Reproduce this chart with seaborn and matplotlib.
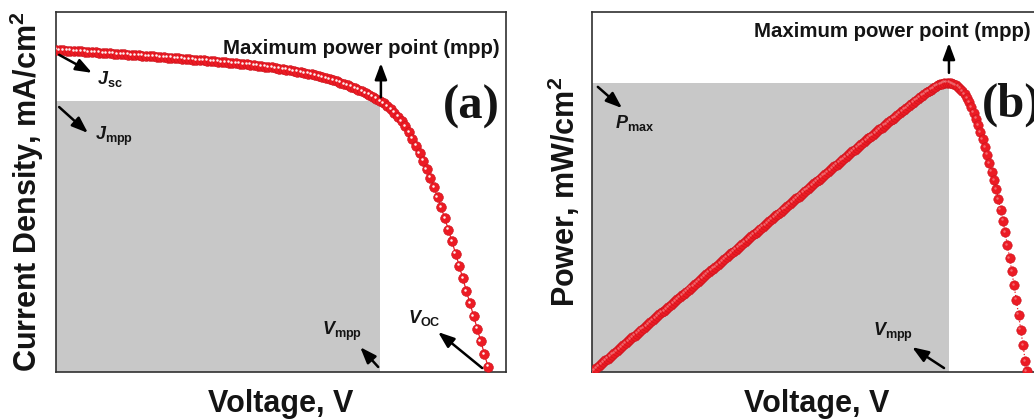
import matplotlib
matplotlib.use("Agg")
import matplotlib.pyplot as plt
import matplotlib.transforms as mtransforms
from matplotlib.patches import Rectangle
import seaborn as sns

# ---------------------------------------------------------------------------
# (a) J-V sweep of the cell: voltage (V) and current density (mA/cm^2)
# ---------------------------------------------------------------------------
voltage_a = [
    0.000, 0.008, 0.016, 0.024, 0.032, 0.040, 0.048, 0.056, 0.064, 0.072,
    0.080, 0.088, 0.096, 0.104, 0.112, 0.120, 0.128, 0.136, 0.144, 0.152,
    0.160, 0.168, 0.176, 0.184, 0.192, 0.200, 0.208, 0.216, 0.224, 0.232,
    0.240, 0.248, 0.256, 0.264, 0.272, 0.280, 0.288, 0.296, 0.304, 0.312,
    0.320, 0.328, 0.336, 0.344, 0.352, 0.360, 0.368, 0.376, 0.384, 0.392,
    0.400, 0.408, 0.416, 0.424, 0.432, 0.440, 0.448, 0.456, 0.464, 0.472,
    0.480, 0.488, 0.496, 0.504, 0.512, 0.520, 0.528, 0.536, 0.544, 0.552,
    0.560, 0.568, 0.576, 0.584, 0.592, 0.600, 0.608, 0.616, 0.624, 0.632,
    0.640, 0.648, 0.656, 0.664, 0.672, 0.680, 0.688, 0.696, 0.704, 0.712,
    0.720, 0.728, 0.736, 0.744, 0.752, 0.760, 0.768, 0.776, 0.784, 0.792,
    0.800, 0.808, 0.816, 0.824, 0.832, 0.840, 0.848, 0.856, 0.864, 0.872,
    0.880, 0.888, 0.896, 0.904, 0.912, 0.920, 0.928, 0.936, 0.944, 0.952,
    0.960,
]
current_a = [
    17.90, 17.89, 17.87, 17.86, 17.85, 17.84, 17.82, 17.81, 17.80, 17.78,
    17.77, 17.76, 17.74, 17.73, 17.71, 17.70, 17.69, 17.67, 17.66, 17.65,
    17.63, 17.62, 17.60, 17.59, 17.57, 17.56, 17.55, 17.53, 17.52, 17.50,
    17.49, 17.47, 17.46, 17.44, 17.42, 17.41, 17.39, 17.38, 17.36, 17.34,
    17.33, 17.31, 17.29, 17.27, 17.26, 17.24, 17.22, 17.20, 17.19, 17.17,
    17.15, 17.13, 17.11, 17.09, 17.07, 17.05, 17.02, 17.00, 16.97, 16.95,
    16.92, 16.89, 16.86, 16.83, 16.80, 16.76, 16.73, 16.69, 16.65, 16.61,
    16.57, 16.53, 16.48, 16.43, 16.38, 16.33, 16.27, 16.21, 16.14, 16.08,
    16.01, 15.93, 15.85, 15.77, 15.69, 15.60, 15.50, 15.40, 15.30, 15.18,
    15.06, 14.92, 14.77, 14.60, 14.41, 14.18, 13.92, 13.64, 13.32, 12.96,
    12.58, 12.17, 11.74, 11.28, 10.79, 10.27, 9.72, 9.14, 8.53, 7.90,
    7.25, 6.58, 5.90, 5.20, 4.50, 3.81, 3.11, 2.41, 1.71, 1.00,
    0.30,
]
v_mpp_a = 0.720
j_mpp_a = 15.06

# ---------------------------------------------------------------------------
# (b) P-V curve: voltage (V) and output power density (mW/cm^2)
# ---------------------------------------------------------------------------
voltage_b = [
    0.000, 0.005, 0.010, 0.015, 0.020, 0.025, 0.030, 0.035, 0.040, 0.045,
    0.050, 0.055, 0.060, 0.065, 0.070, 0.075, 0.080, 0.085, 0.090, 0.095,
    0.100, 0.105, 0.110, 0.115, 0.120, 0.125, 0.130, 0.135, 0.140, 0.145,
    0.150, 0.155, 0.160, 0.165, 0.170, 0.175, 0.180, 0.185, 0.190, 0.195,
    0.200, 0.205, 0.210, 0.215, 0.220, 0.225, 0.230, 0.235, 0.240, 0.245,
    0.250, 0.255, 0.260, 0.265, 0.270, 0.275, 0.280, 0.285, 0.290, 0.295,
    0.300, 0.305, 0.310, 0.315, 0.320, 0.325, 0.330, 0.335, 0.340, 0.345,
    0.350, 0.355, 0.360, 0.365, 0.370, 0.375, 0.380, 0.385, 0.390, 0.395,
    0.400, 0.405, 0.410, 0.415, 0.420, 0.425, 0.430, 0.435, 0.440, 0.445,
    0.450, 0.455, 0.460, 0.465, 0.470, 0.475, 0.480, 0.485, 0.490, 0.495,
    0.500, 0.505, 0.510, 0.515, 0.520, 0.525, 0.530, 0.535, 0.540, 0.545,
    0.550, 0.555, 0.560, 0.565, 0.570, 0.575, 0.580, 0.585, 0.590, 0.595,
    0.600, 0.605, 0.610, 0.615, 0.620, 0.625, 0.630, 0.635, 0.640, 0.645,
    0.650, 0.655, 0.660, 0.665, 0.670, 0.675, 0.680, 0.685, 0.690, 0.695,
    0.700, 0.705, 0.710, 0.715, 0.720, 0.725, 0.730, 0.735, 0.740, 0.745,
    0.750, 0.755, 0.760, 0.765, 0.770, 0.775, 0.780, 0.785, 0.790, 0.795,
    0.800, 0.805, 0.810, 0.815, 0.820, 0.825, 0.830, 0.835, 0.840, 0.845,
    0.850, 0.855, 0.860, 0.865, 0.870, 0.875, 0.880, 0.885, 0.890, 0.895,
    0.900, 0.905, 0.910, 0.915, 0.920, 0.925, 0.930, 0.935, 0.940, 0.945,
    0.950, 0.955, 0.960, 0.965, 0.968,
]
power_b = [
    0.00, 0.08, 0.16, 0.24, 0.32, 0.40, 0.48, 0.56, 0.64, 0.72,
    0.80, 0.88, 0.96, 1.04, 1.12, 1.20, 1.28, 1.36, 1.44, 1.52,
    1.60, 1.68, 1.76, 1.84, 1.92, 2.00, 2.08, 2.16, 2.24, 2.32,
    2.40, 2.48, 2.55, 2.63, 2.71, 2.79, 2.87, 2.95, 3.03, 3.11,
    3.19, 3.27, 3.35, 3.43, 3.51, 3.59, 3.67, 3.75, 3.83, 3.91,
    3.99, 4.07, 4.15, 4.23, 4.31, 4.38, 4.46, 4.54, 4.62, 4.70,
    4.78, 4.86, 4.94, 5.02, 5.10, 5.18, 5.26, 5.34, 5.42, 5.50,
    5.58, 5.65, 5.73, 5.81, 5.89, 5.97, 6.05, 6.13, 6.21, 6.29,
    6.37, 6.45, 6.53, 6.60, 6.68, 6.76, 6.84, 6.92, 7.00, 7.08,
    7.16, 7.23, 7.31, 7.39, 7.47, 7.55, 7.63, 7.70, 7.78, 7.86,
    7.94, 8.02, 8.10, 8.18, 8.25, 8.33, 8.41, 8.49, 8.57, 8.64,
    8.72, 8.80, 8.88, 8.96, 9.04, 9.11, 9.19, 9.27, 9.35, 9.43,
    9.50, 9.58, 9.66, 9.73, 9.81, 9.88, 9.96, 10.03, 10.11, 10.18,
    10.26, 10.33, 10.41, 10.48, 10.56, 10.63, 10.71, 10.78, 10.86, 10.93,
    11.00, 11.08, 11.15, 11.22, 11.30, 11.37, 11.44, 11.51, 11.58, 11.65,
    11.71, 11.77, 11.83, 11.89, 11.94, 11.98, 12.02, 12.05, 12.05, 12.05,
    12.03, 12.00, 11.96, 11.89, 11.81, 11.70, 11.58, 11.42, 11.24, 11.04,
    10.81, 10.56, 10.29, 10.00, 9.69, 9.38, 9.05, 8.71, 8.35, 7.98,
    7.61, 7.21, 6.77, 6.31, 5.82, 5.29, 4.75, 4.19, 3.61, 3.01,
    2.39, 1.76, 1.11, 0.45, 0.04,
]
v_mpp_b = 0.795
p_max_b = 12.05

# ---------------------------------------------------------------------------
# Styling
# ---------------------------------------------------------------------------
sns.set_theme(style="white")
plt.rcParams.update({
    "font.family": ["Liberation Sans", "DejaVu Sans"],
    "font.weight": "bold",
    "mathtext.fontset": "custom",
    "mathtext.rm": "Liberation Sans:bold",
    "mathtext.bf": "Liberation Sans:bold",
    "mathtext.it": "Liberation Sans:bold:italic",
    "axes.linewidth": 1.2,
    "axes.edgecolor": "#303030",
})

BALL = "#ec1b24"
BALL_EDGE = "#c8111b"
SHADE = "#c8c8c8"
INK = "#141414"
LABEL_SIZE = 22
NOTE_SIZE = 13

fig = plt.figure(figsize=(10.34, 4.19), dpi=100)
ax_a = fig.add_axes([56 / 1034, 47 / 419, 450 / 1034, 360 / 419])
ax_b = fig.add_axes([592 / 1034, 47 / 419, 449 / 1034, 360 / 419])


def draw_balls(ax, x, y, size, line_style, line_width, shine_alpha):
    """Red glossy beads joined by a thin line."""
    sns.lineplot(x=x, y=y, ax=ax, sort=False, estimator=None, color=BALL,
                 linewidth=line_width, linestyle=line_style, marker="o",
                 markersize=size, markerfacecolor=BALL,
                 markeredgecolor=BALL_EDGE, markeredgewidth=0.4, zorder=3)
    shine = ax.transData + mtransforms.ScaledTranslation(
        -0.013, 0.013, fig.dpi_scale_trans)
    ax.plot(x, y, ls="none", marker="o", markersize=size * 0.26,
            markeredgewidth=0, color="white", alpha=shine_alpha,
            transform=shine, zorder=4)


def arrow(ax, tail, head):
    ax.annotate("", xy=head, xytext=tail, xycoords="axes fraction",
                textcoords="axes fraction",
                arrowprops=dict(arrowstyle="-|>,head_length=0.75,head_width=0.28",
                                color="black", lw=1.8, shrinkA=0, shrinkB=0,
                                mutation_scale=13))


def note(ax, x, y, s, size=NOTE_SIZE, ha="left", va="baseline", **kw):
    ax.text(x, y, s, transform=ax.transAxes, fontsize=size, ha=ha, va=va,
            color=INK, fontweight="bold", **kw)


# ---------------------------------------------------------------------------
# (a) J-V
# ---------------------------------------------------------------------------
ax_a.add_patch(Rectangle((0, 0), v_mpp_a, j_mpp_a, facecolor=SHADE,
                         edgecolor="none", zorder=1))
draw_balls(ax_a, voltage_a, current_a, 7.0, "-", 0.9, 0.95)
ax_a.set_xlim(0, 1)
ax_a.set_ylim(0, 20)

note(ax_a, 0.679, 0.883, "Maximum power point (mpp)", size=14.7, ha="center")
arrow(ax_a, (0.722, 0.763), (0.722, 0.858))
arrow(ax_a, (0.007, 0.881), (0.080, 0.831))
note(ax_a, 0.091, 0.800, r"$\mathit{J}_{\mathbf{sc}}$")
arrow(ax_a, (0.007, 0.736), (0.071, 0.664))
note(ax_a, 0.087, 0.644, r"$\mathit{J}_{\mathbf{mpp}}$")
note(ax_a, 0.591, 0.103, r"$\mathit{V}_{\mathbf{mpp}}$")
arrow(ax_a, (0.716, 0.014), (0.676, 0.069))
note(ax_a, 0.782, 0.136, r"$\mathit{V}_{\mathbf{OC}}$")
arrow(ax_a, (0.947, 0.011), (0.849, 0.111))
note(ax_a, 0.923, 0.736, "(a)", size=35, ha="center", va="center",
     family="Liberation Serif")

ax_a.set_xlabel("Voltage, V", fontsize=LABEL_SIZE, fontweight="bold", color=INK)
ax_a.xaxis.set_label_coords(0.5, -0.111)
ax_a.xaxis.label.set_verticalalignment("baseline")
ax_a.set_ylabel(r"Current Density, mA/cm$^\mathbf{2}$", fontsize=LABEL_SIZE,
                fontweight="bold", color=INK)
ax_a.yaxis.set_label_coords(-0.042, 0.5)
ax_a.yaxis.label.set_verticalalignment("baseline")

# ---------------------------------------------------------------------------
# (b) P-V
# ---------------------------------------------------------------------------
ax_b.add_patch(Rectangle((0, 0), v_mpp_b, p_max_b, facecolor=SHADE,
                         edgecolor="none", zorder=1))
draw_balls(ax_b, voltage_b, power_b, 6.8, ":", 0.9, 0.35)
ax_b.set_xlim(0, 1)
ax_b.set_ylim(0, 15)

note(ax_b, 0.668, 0.931, "Maximum power point (mpp)", size=14.7, ha="center")
arrow(ax_b, (0.795, 0.831), (0.795, 0.914))
arrow(ax_b, (0.013, 0.792), (0.067, 0.733))
note(ax_b, 0.051, 0.678, r"$\mathit{P}_{\mathbf{max}}$")
note(ax_b, 0.626, 0.100, r"$\mathit{V}_{\mathbf{mpp}}$")
arrow(ax_b, (0.784, 0.011), (0.713, 0.069))
note(ax_b, 0.869, 0.742, "(b)", size=35, ha="left", va="center",
     family="Liberation Serif")

ax_b.set_xlabel("Voltage, V", fontsize=LABEL_SIZE, fontweight="bold", color=INK)
ax_b.xaxis.set_label_coords(0.5, -0.111)
ax_b.xaxis.label.set_verticalalignment("baseline")
ax_b.set_ylabel(r"Power, mW/cm$^\mathbf{2}$", fontsize=LABEL_SIZE,
                fontweight="bold", color=INK)
ax_b.yaxis.set_label_coords(-0.038, 0.5)
ax_b.yaxis.label.set_verticalalignment("baseline")

for ax in (ax_a, ax_b):
    ax.set_xticks([])
    ax.set_yticks([])
    for spine in ax.spines.values():
        spine.set_visible(True)
        spine.set_color("#303030")
        spine.set_linewidth(1.2)

fig.savefig("out.png", dpi=100)
